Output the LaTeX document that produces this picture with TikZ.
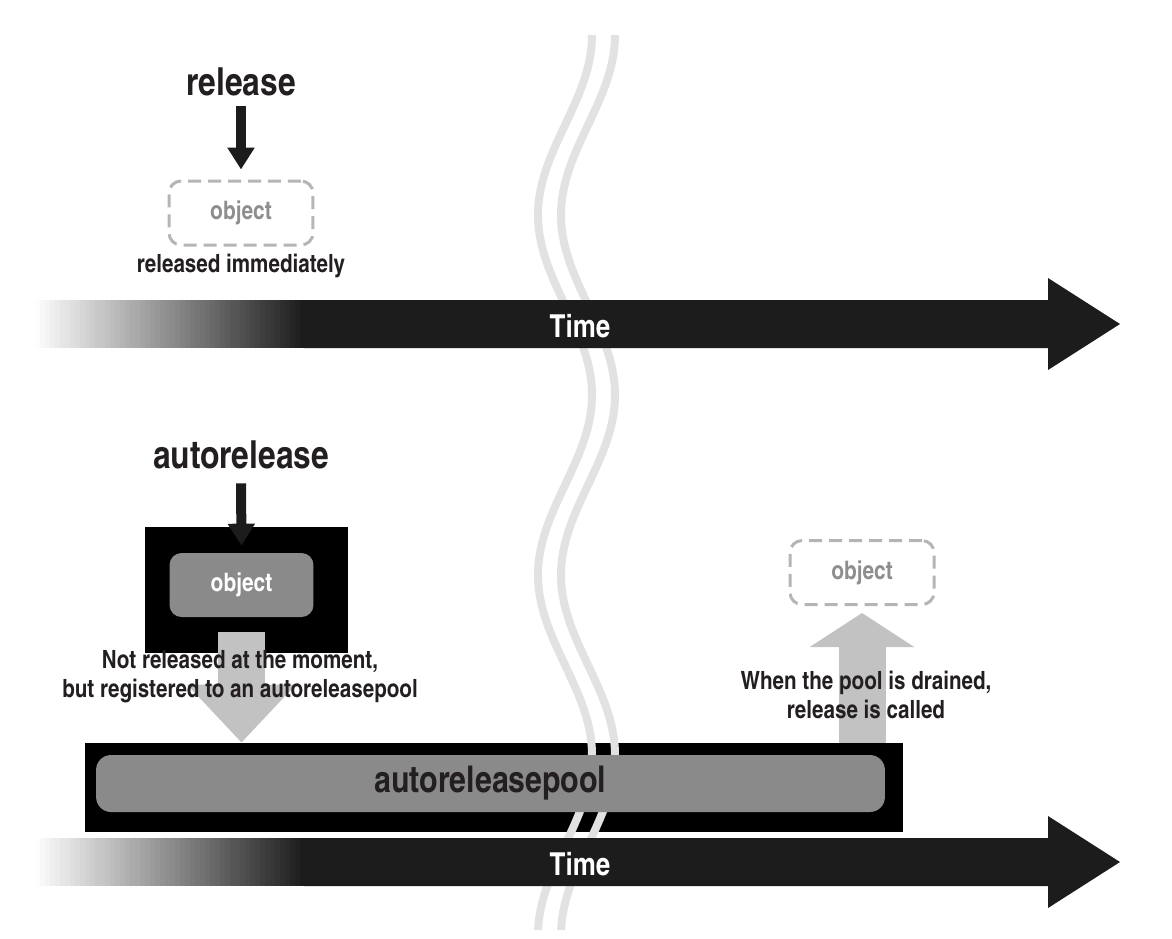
\documentclass[tikz,border=0pt]{standalone}
\usepackage{fontspec}
\setmainfont{texgyreheroscn}[Extension=.otf,UprightFont=*-bold,BoldFont=*-bold]
\usepackage{xcolor}
\usetikzlibrary{positioning,arrows.meta}
\definecolor{bar}{HTML}{1C1C1C}
\definecolor{ink}{HTML}{231F20}
\definecolor{objgray}{HTML}{8A8A8A}
\definecolor{dashgray}{HTML}{B5B5B5}
\definecolor{gonetext}{HTML}{8E8E8E}
\definecolor{arrowgray}{HTML}{C2C2C2}
\definecolor{wavegray}{HTML}{E2E2E2}
\tikzset{
big text/.style={text=ink, font=\fontsize{22}{26}\selectfont},
label text/.style={text=ink, font=\fontsize{14.3}{16.4}\selectfont, align=center},
time text/.style={text=white, font=\fontsize{18}{21}\selectfont},
obj/.style={rounded corners=0.24cm, minimum width=2.88cm, minimum height=1.28cm, font=\fontsize{14.5}{17}\selectfont},
gone/.style={obj, draw=dashgray, line width=0.06cm, dash pattern=on 0.26cm off 0.14cm, text=gonetext},
held/.style={obj, fill=objgray, text=white},
frame/.style={fill=black, inner sep=0pt},
call arrow/.style={draw=bar, line width=0.2cm, -{Triangle[width=0.52cm,length=0.44cm]}},
pool arrow/.style={draw=arrowgray, line width=0.94cm, -{Triangle[width=2.1cm,length=1.16cm]}},
wave/.style={draw=wavegray, line width=0.16cm}
}

\begin{document}
\begin{tikzpicture}[x=0.02cm, y=-0.02cm]
   \useasboundingbox (0,0) rectangle (1172,938);
   % release: gone at once
   \node[big text] (rel) at (241,82) {release};
   \node[gone] (obj1) at (241,213) {object};
   \node[label text] (imm) at (241,266) {released immediately};
   \draw[call arrow] ([yshift=-0.08cm]rel.south) -- ([yshift=0.2cm]obj1.north);
   % autorelease: kept in the pool
   \node[big text] (arel) at (241,455) {autorelease};
   \node[frame, minimum width=4.06cm, minimum height=2.52cm] (objframe) at (246.5,590) {};
   \node[held] (obj2) at (241.5,585) {object};
   \draw[call arrow] ([yshift=-0.16cm]arel.south) -- ([yshift=0.14cm]obj2.north);
   \node[frame, minimum width=16.36cm, minimum height=1.78cm] (poolframe) at (494,787.5) {};
   \foreach \dx in {0,23}
     \draw[wave] plot[domain=35:930, samples=100, smooth, variable=\t] ({565+\dx+27*cos(\t-35)}, \t);
   \node[obj, fill=objgray, text=ink, rounded corners=0.3cm, minimum width=15.78cm, minimum height=1.14cm,
     font=\fontsize{21}{25}\selectfont] (pool) at (490.5,783.5) {autoreleasepool};
   \draw[pool arrow] ([yshift=-0.3cm]obj2.south) -- (obj2.south |- poolframe.north);
   \node[label text] (reg) at (240,677) {Not released at the moment,\\but registered to an autoreleasepool};
   \node[gone] (obj3) at (862,572.5) {object};
   \draw[pool arrow, -{Triangle[width=2.06cm,length=0.68cm]}] (obj3.south |- poolframe.north) -- ([yshift=-0.14cm]obj3.south);
   \node[label text] (drain) at (866,695) {When the pool is drained,\\release is called};
   % time axes
   \foreach \y/\n in {324/t1, 862/t2} {
     \foreach \i in {0,...,54} {
       \pgfmathtruncatemacro\pct{100*\i/54}
       \fill[bar!\pct!white] (30+5*\i,\y-24) rectangle (36+5*\i,\y+24);
     }
     \fill[bar] (304,\y-24) -- (1048,\y-24) -- (1048,\y-46) -- (1120,\y) -- (1048,\y+46)
       -- (1048,\y+24) -- (304,\y+24) -- cycle;
     \node[time text] (\n) at (580,\y+2) {Time};
   }
\end{tikzpicture}
\end{document}
